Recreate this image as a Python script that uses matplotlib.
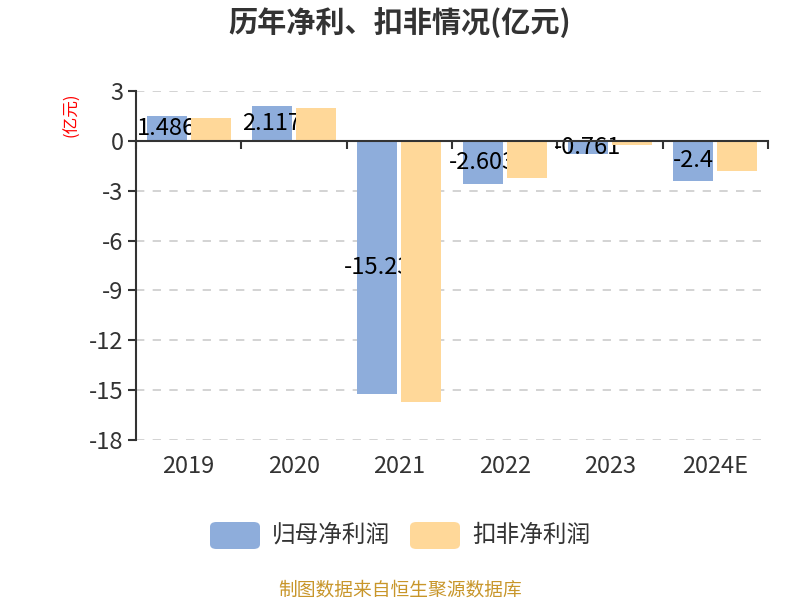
import numpy as np
import matplotlib.pyplot as plt
from matplotlib.patches import FancyBboxPatch

plt.rcParams['font.family'] = ['Noto Sans CJK SC', 'DejaVu Sans']

years = ['2019', '2020', '2021', '2022', '2023', '2024E']
net_profit = [1.486, 2.117, -15.23, -2.603, -0.761, -2.40]
net_profit_labels = ['1.486', '2.117', '-15.23', '-2.603', '-0.761', '-2.4']
deducted_profit = [1.36, 1.96, -15.74, -2.26, -0.26, -1.84]
yticks = [3, 0, -3, -6, -9, -12, -15, -18]

blue = '#8eaddb'
orange = '#ffd899'

fig = plt.figure(figsize=(8, 6), dpi=100)
ax = fig.add_axes([0.17, 0.2667, 0.79, 0.5816])

x = np.arange(len(years))
w = 0.38
off = 0.21
ax.bar(x - off, net_profit, w, color=blue, zorder=2)
ax.bar(x + off, deducted_profit, w, color=orange, zorder=4)

for xi, v, lab in zip(x, net_profit, net_profit_labels):
    ax.text(xi - off, v / 2, lab, ha='center', va='center', fontsize=17,
            color='black', zorder=3)

ax.set_xlim(-0.5, len(years) - 0.5)
ax.set_ylim(-18, 3)
ax.set_yticks(yticks)
ax.set_yticklabels([str(t) for t in yticks])
for t in yticks:
    if t != 0:
        ax.axhline(t, color='#cccccc', lw=1.2, ls=(0, (5, 5)), zorder=1)

# category ticks on the zero line, labels under the plot area
ax.set_xticks(np.arange(len(years) + 1) - 0.5)
ax.set_xticklabels([])
ax.tick_params(axis='x', length=6, width=1.5, color='#333333', direction='out')
for xi, yr in zip(x, years):
    ax.text(xi, -0.075, yr, transform=ax.get_xaxis_transform(), ha='center',
            va='center', fontsize=17, color='#333333')
ax.tick_params(axis='y', length=6, width=1.5, color='#333333', labelsize=17,
               labelcolor='#333333', pad=3)

for s in ['top', 'right']:
    ax.spines[s].set_visible(False)
ax.spines['bottom'].set_position(('data', 0))
ax.spines['bottom'].set_color('#333333')
ax.spines['bottom'].set_linewidth(1.5)
ax.spines['bottom'].set_zorder(5)
ax.spines['left'].set_color('#333333')
ax.spines['left'].set_linewidth(1.5)

fig.text(0.5, 0.962, '历年净利、扣非情况(亿元)', ha='center', va='center',
         fontsize=21, fontweight='bold', color='#333333')
fig.text(0.09, 0.808, '(亿元)', ha='center', va='center', rotation=90,
         fontsize=12, color='red')

# legend
for px, col, lab in [(210, blue, '归母净利润'), (410, orange, '扣非净利润')]:
    p = FancyBboxPatch((px / 800, (600 - 549) / 600), 50 / 800, 27 / 600,
                       boxstyle='round,pad=0,rounding_size=0.008',
                       transform=fig.transFigure, color=col, lw=0)
    fig.patches.append(p)
    fig.text((px + 62) / 800, (600 - 535) / 600, lab, ha='left', va='center',
             fontsize=17, color='#333333')

fig.text(0.5, (600 - 590) / 600, '制图数据来自恒生聚源数据库', ha='center', va='center',
         fontsize=13.5, color='#c8962a')

plt.savefig('out.png')
